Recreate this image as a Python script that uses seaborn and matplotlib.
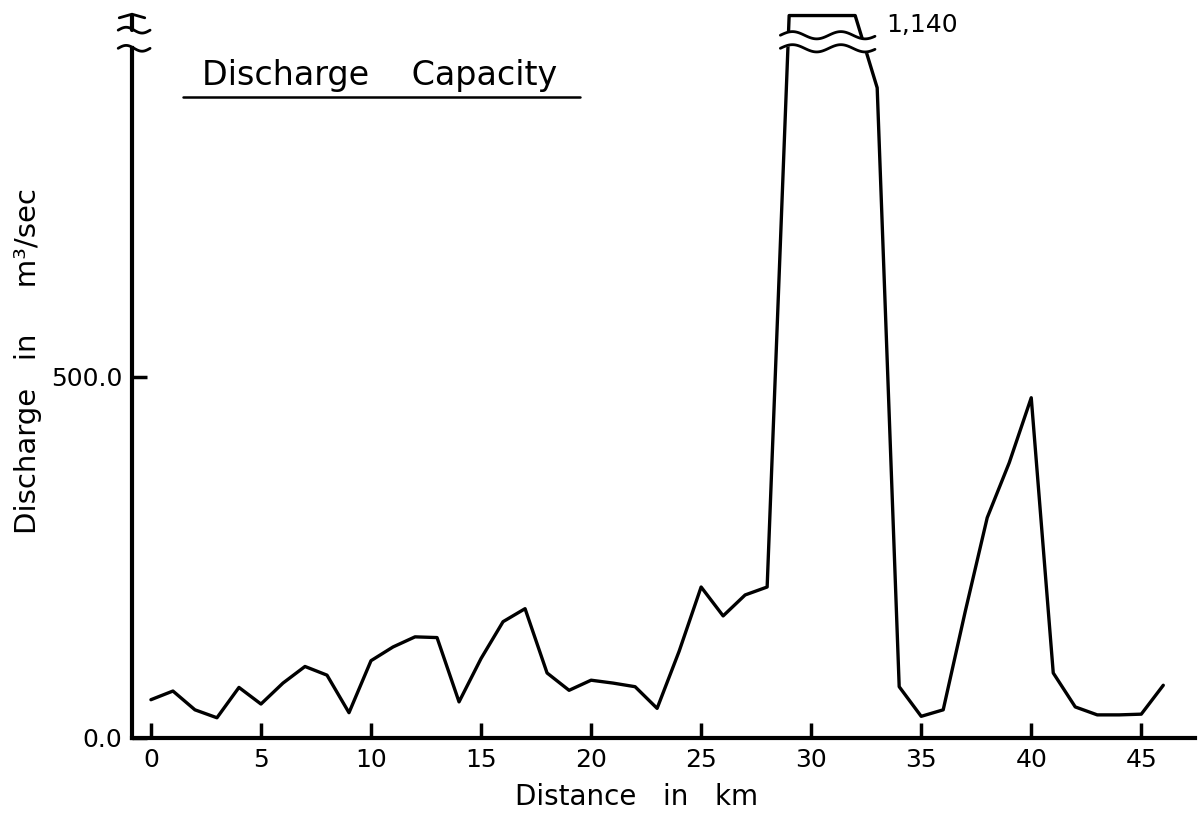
import numpy as np
import matplotlib
matplotlib.use('Agg')
import matplotlib.pyplot as plt
import seaborn as sns

# Discharge capacity along the river
km = list(range(0, 47))
discharge = [53, 65, 39, 28, 70, 47, 76, 99, 87, 35,
             107, 126, 140, 139, 50, 110, 161, 179, 90, 66,
             80, 76, 71, 41, 120, 209, 169, 198, 209, 1140,
             1140, 1140, 1140, 900, 71, 30, 39, 175, 305, 381,
             471, 90, 43, 32, 32, 33, 73]
x_ticks = [0, 5, 10, 15, 20, 25, 30, 35, 40, 45]
y_ticks = [0, 500]
y_tick_labels = ['0.0', '500.0']

sns.set_style('ticks')
plt.rcParams['font.family'] = ['DejaVu Sans']
plt.rcParams['text.color'] = 'black'
plt.rcParams['axes.labelcolor'] = 'black'
plt.rcParams['xtick.color'] = 'black'
plt.rcParams['ytick.color'] = 'black'
plt.rcParams['axes.edgecolor'] = 'black'

# broken y axis: values above BREAK are squeezed
BREAK = 960
SQUEEZE = 40 / 180


def fwd(v):
    v = np.asarray(v, dtype=float)
    return np.where(v <= BREAK, v, BREAK + (v - BREAK) * SQUEEZE)


def inv(v):
    v = np.asarray(v, dtype=float)
    return np.where(v <= BREAK, v, BREAK + (v - BREAK) / SQUEEZE)


fig = plt.figure(figsize=(12, 8.17), dpi=100)
ax = fig.add_axes([0.11, 0.0967, 0.886, 0.8886])

sns.lineplot(x=km, y=discharge, color='black', lw=2.4, ax=ax)
ax.set_yscale('function', functions=(fwd, inv))
ax.set_xlim(-0.86, 47.45)
ax.set_ylim(0, 1162)

ax.set_xticks(x_ticks)
ax.set_yticks(y_ticks)
ax.set_yticklabels(y_tick_labels)
ax.minorticks_off()
ax.tick_params(direction='in', length=11, width=2.5, labelsize=18, pad=7)

sns.despine(ax=ax)
ax.spines['left'].set_linewidth(3)
ax.spines['bottom'].set_linewidth(3)
ax.spines['left'].set_bounds(0, 955)

# break marks on the y axis
t = np.linspace(0, 1, 50)
for yb in [0.950, 0.975]:
    ax.plot(-0.013 + 0.03 * t, yb + 0.004 * np.sin(2 * np.pi * t), color='black',
            lw=2, transform=ax.transAxes, clip_on=False)
ax.plot([0, 0], [0.975, 0.995], color='black', lw=3, transform=ax.transAxes, clip_on=False)
ax.plot([-0.012, 0.0, 0.012], [0.992, 0.997, 0.992], color='black', lw=2,
        transform=ax.transAxes, clip_on=False)

# break marks across the peak
xtr = ax.get_xaxis_transform()
xs = np.linspace(28.6, 32.9, 80)
w = 0.005 * np.sin(2 * np.pi * (xs - 28.6) / 2.2)
ax.fill_between(xs, 0.950 + w, 0.968 + w, color='white', transform=xtr, zorder=3)
ax.plot(xs, 0.950 + w, color='black', lw=2, transform=xtr, zorder=4)
ax.plot(xs, 0.968 + w, color='black', lw=2, transform=xtr, zorder=4)

peak = max(discharge)
ax.text(33.4, 0.982, f'{peak:,}', transform=xtr, va='center', ha='left', fontsize=18)

# underlined title inside the plot
ax.text(0.233, 0.913, 'Discharge    Capacity', transform=ax.transAxes,
        ha='center', va='center', fontsize=24)
ax.plot([0.048, 0.421], [0.883, 0.883], color='black', lw=1.8, transform=ax.transAxes)

ax.set_xlabel('Distance   in   km', fontsize=20)
ax.set_ylabel('Discharge   in     m³/sec', fontsize=21)
ax.xaxis.set_label_coords(0.475, -0.062)
ax.yaxis.set_label_coords(-0.085, 0.519)

fig.savefig('out.png', dpi=100)
